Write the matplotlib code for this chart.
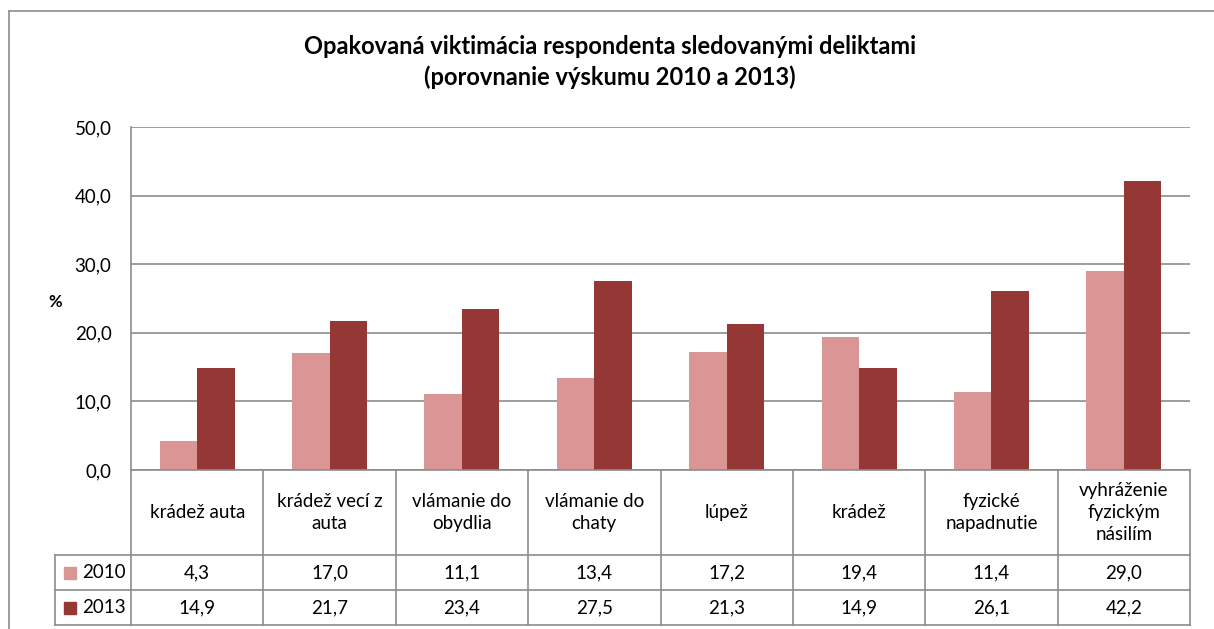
import matplotlib
matplotlib.use("Agg")
import matplotlib.pyplot as plt
from matplotlib.lines import Line2D
from matplotlib.patches import Rectangle
import numpy as np

plt.rcParams['font.family'] = ['Lato', 'DejaVu Sans']

title = "Opakovaná viktimácia respondenta sledovanými deliktami\n(porovnanie výskumu 2010 a 2013)"
categories = ["krádež auta", "krádež vecí z\nauta", "vlámanie do\nobydlia", "vlámanie do\nchaty",
              "lúpež", "krádež", "fyzické\nnapadnutie", "vyhráženie\nfyzickým\nnásilím"]
series_names = ["2010", "2013"]
values_2010 = [4.3, 17.0, 11.1, 13.4, 17.2, 19.4, 11.4, 29.0]
values_2013 = [14.9, 21.7, 23.4, 27.5, 21.3, 14.9, 26.1, 42.2]
yticks = [0, 10, 20, 30, 40, 50]
colors = ["#D99694", "#953735"]
grid_c = "#8C8C8C"

W, H = 1214, 629
fig = plt.figure(figsize=(W / 100, H / 100), dpi=100)

def fx(px):
    return px / W

def fy(py):
    return 1 - py / H

# outer chart border
fig.add_artist(Line2D([fx(9), fx(9)], [fy(11), fy(629)], color=grid_c, lw=1.2, transform=fig.transFigure))
fig.add_artist(Line2D([fx(9), fx(1214)], [fy(11), fy(11)], color=grid_c, lw=1.2, transform=fig.transFigure))

L, R, T, B = 131, 1190, 127, 470
ax = fig.add_axes([fx(L), fy(B), fx(R - L), (B - T) / H])
n = len(categories)
x = np.arange(n)
bw = 0.283
ax.bar(x - bw / 2, values_2010, bw, color=colors[0], zorder=3)
ax.bar(x + bw / 2, values_2013, bw, color=colors[1], zorder=3)
ax.set_xlim(-0.5, n - 0.5)
ax.set_ylim(0, 50)
ax.set_yticks(yticks)
ax.set_yticklabels([f"{v:.1f}".replace(".", ",") for v in yticks], fontsize=13.5)
ax.tick_params(axis='y', length=0, pad=14)
ax.set_xticks([])
ax.yaxis.grid(True, color=grid_c, lw=1.2, zorder=0)
for s in ["top", "right", "bottom"]:
    ax.spines[s].set_visible(False)
ax.spines["left"].set_color(grid_c)
ax.spines["left"].set_linewidth(1.2)
fig.text(fx(55), fy(302), "%", fontsize=12, fontweight='bold', ha='center', va='center')
fig.text(fx(610), fy(62), title, fontsize=17, fontweight='bold', ha='center', va='center', linespacing=1.35)

# data table
TB = 625
tab = fig.add_axes([fx(L), fy(TB), fx(R - L), (TB - B) / H])
tab.set_xlim(-0.5, n - 0.5)
tab.set_ylim(TB - B, 0)
tab.axis('off')
rows = [0, 85, 120, 155]
leg_left = -0.5 - (L - 55) / ((R - L) / n)
lk = dict(color=grid_c, lw=1.2, clip_on=False)
# horizontal lines
tab.plot([-0.5, n - 0.5], [rows[0], rows[0]], **lk)
for r in rows[1:]:
    tab.plot([leg_left, n - 0.5], [r, r], **lk)
# vertical lines
for i in range(n + 1):
    tab.plot([i - 0.5, i - 0.5], [rows[0], rows[3]], **lk)
tab.plot([leg_left, leg_left], [rows[1], rows[3]], **lk)

fs = 13.5
for i, c in enumerate(categories):
    tab.text(i, (rows[0] + rows[1]) / 2, c, ha='center', va='center', fontsize=fs,
             linespacing=1.36, clip_on=False)
for k, vals in enumerate([values_2010, values_2013]):
    yc = (rows[k + 1] + rows[k + 2]) / 2
    for i, v in enumerate(vals):
        tab.text(i, yc, f"{v:.1f}".replace(".", ","), ha='center', va='center', fontsize=fs)
    sq = 12 / ((R - L) / n)
    sx = leg_left + 9 / ((R - L) / n)
    tab.add_patch(Rectangle((sx, yc - 6), sq, 12, color=colors[k], clip_on=False))
    tab.text(sx + sq + 6 / ((R - L) / n), yc, series_names[k], ha='left', va='center',
             fontsize=fs, clip_on=False)

fig.savefig("out.png", dpi=100)
